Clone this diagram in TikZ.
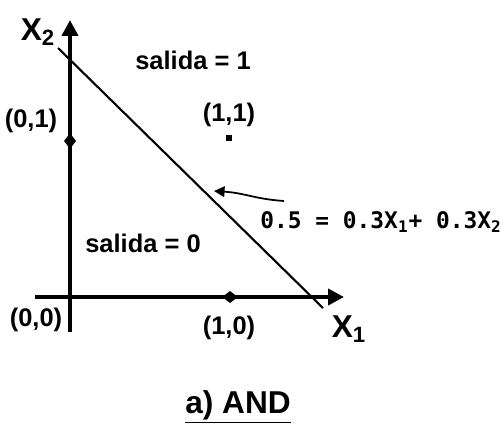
\documentclass[tikz,border=0pt]{standalone}
\usepackage{fontspec}
\setmainfont{Liberation Sans}
\newfontfamily\eqfont{DejaVu Sans Mono}
\usepackage{tikz}
\usetikzlibrary{arrows.meta,positioning,shapes.geometric}
\tikzset{
  axis/.style={line width=2.3pt,-{Triangle[length=9pt,width=9pt]}},
  bound/.style={line width=1.2pt},
  pointer/.style={line width=1pt,-{Triangle[length=6pt,width=6pt]}},
  lab/.style={font=\bfseries\fontsize{14.5}{16}\selectfont,inner sep=1pt},
  axlab/.style={font=\bfseries\fontsize{18}{20}\selectfont,inner sep=1pt},
  eqlab/.style={font=\eqfont\bfseries\fontsize{13}{15}\selectfont,inner sep=1pt},
  tick/.style={diamond,fill,inner sep=0pt,minimum width=7pt,minimum height=9pt},
  dot/.style={fill,inner sep=0pt,minimum size=3.5pt}
}

\begin{document}
\begin{tikzpicture}[x=0.02cm,y=-0.02cm]
  \useasboundingbox (0,0) rectangle (503,427);
  % axes
  \coordinate (origin) at (70,297);
  \coordinate (ybot) at (70,332);
  \coordinate (ytop) at (70,20);
  \coordinate (xleft) at (35,297);
  \coordinate (xright) at (344,297);
  \draw[axis] (ybot)--(ytop);
  \draw[axis] (xleft)--(xright);
  \node[tick] (t01) at (70,141) {};
  \node[tick,minimum width=9pt,minimum height=7pt] (t10) at (230,297) {};
  \node[tick,minimum size=4pt] (t00) at (origin) {};
  \node[dot] (p11) at (229,138) {};
  % decision line
  \coordinate (lstart) at (58,48);
  \coordinate (lend) at (323,308);
  \draw[bound] (lstart)--(lend);
  % labels
  \node[axlab] (x2) at (38,32) {X\textsubscript{2}};
  \node[axlab] (x1) at (349,329) {X\textsubscript{1}};
  \node[lab] (s1) at (193,60) {salida = 1};
  \node[lab] (s0) at (143,243) {salida = 0};
  \node[lab] (l01) at (31,121) {(0,1)};
  \node[lab] (l11) at (229,115) {(1,1)};
  \node[lab] (l00) at (36,320) {(0,0)};
  \node[lab] (l10) at (229,328) {(1,0)};
  \node[eqlab] (eq) at (381,222) {0.5 = 0.3X\textsubscript{1}+ 0.3X\textsubscript{2}};
  \coordinate (eqtail) at (284,201);
  \coordinate (eqhead) at (214,191);
  \draw[pointer] (eqtail) .. controls (255,199) and (245,193) .. (eqhead);
  \node[axlab] (title) at (238,407) {\underline{a) AND}};
\end{tikzpicture}
\end{document}
